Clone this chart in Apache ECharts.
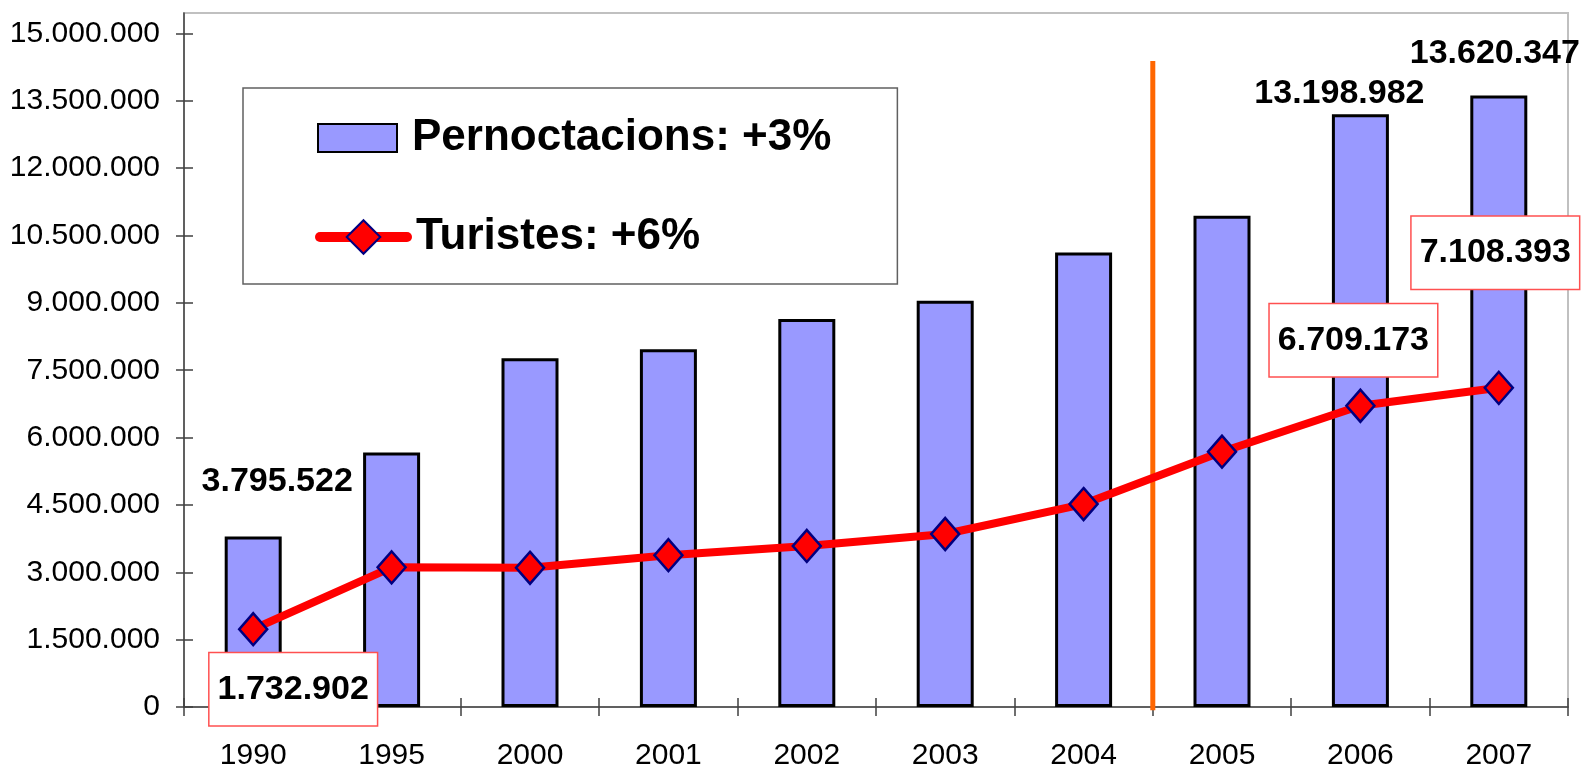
<!DOCTYPE html>
<html><head><meta charset="utf-8">
<script src="https://cdn.jsdelivr.net/npm/echarts@6/dist/echarts.min.js"></script>
<style>html,body{margin:0;padding:0;background:#fff}#c{width:1583px;height:767px}</style>
</head><body><div id="c"></div>
<script>
const years = ['1990','1995','2000','2001','2002','2003','2004','2005','2006','2007'];
const pernoctacions = [3795522, 5670000, 7766000, 7966000, 8640000, 9050000, 10120000, 10940000, 13198982, 13620347];
const turistes = [1732902, 3110000, 3100000, 3380000, 3586000, 3853000, 4520000, 5686000, 6709173, 7108393];
const yTicks = [0, 1500000, 3000000, 4500000, 6000000, 7500000, 9000000, 10500000, 12000000, 13500000, 15000000];
const separator = [[7, -70000], [7, 14387000]];
const legendNames = ['Pernoctacions: +3%', 'Turistes: +6%'];
const yMax = 15456000;

const barLabelOffsets = {0: [24, -38], 8: [-21, -4], 9: [-4, -25]};
const lineLabelOffsets = {0: [40, 60], 8: [-7, -65.5], 9: [-3.5, -135]};

const FONT = 'Liberation Sans, Arial, sans-serif';
function fmt(v){ return String(Math.round(v)).replace(/\B(?=(\d{3})+(?!\d))/g, '.'); }

const barData = pernoctacions.map((v, i) => {
  const o = {value: v};
  if (barLabelOffsets[i]) o.label = {show: true, offset: barLabelOffsets[i]};
  return o;
});
const lineData = turistes.map((v, i) => {
  const o = {value: v};
  if (lineLabelOffsets[i]) o.label = {show: true, offset: lineLabelOffsets[i]};
  return o;
});

const axisColor = '#404040';
const chart = echarts.init(document.getElementById('c'), null, {renderer: 'canvas'});
chart.setOption({
  animation: false,
  backgroundColor: '#fff',
  textStyle: {fontFamily: FONT},
  grid: {left: 184, right: 15, top: 13, bottom: 60, outerBoundsMode: 'none', containLabel: false,
         show: true, borderColor: '#C0C0C0', borderWidth: 2, backgroundColor: 'transparent'},
  legend: [
    {data: [{name: legendNames[0], icon: 'rect'}], left: 243, top: 88, orient: 'vertical', padding: [28, 66, 124, 74],
     borderColor: '#606060', borderWidth: 1.5, itemWidth: 79, itemHeight: 28, selectedMode: false,
     textStyle: {fontSize: 44, fontWeight: 'bold', color: '#000', fontFamily: FONT, padding: [0, 0, 0, 10]}},
    {data: [legendNames[1]], left: 315, top: 215, orient: 'vertical', padding: 0,
     itemWidth: 87, itemHeight: 42, selectedMode: false,
     lineStyle: {width: 10, cap: 'round'},
     textStyle: {fontSize: 44, fontWeight: 'bold', color: '#000', fontFamily: FONT, padding: [0, 0, 0, 4]}}
  ],
  xAxis: [
    {type: 'category', data: years, position: 'bottom', boundaryGap: true,
     axisLine: {show: true, lineStyle: {color: axisColor, width: 1.5}},
     axisTick: {show: true, length: 9, lineStyle: {color: axisColor, width: 1.5}},
     axisLabel: {fontSize: 30, color: '#000', margin: 34, fontFamily: FONT},
     splitLine: {show: false}},
    {type: 'category', data: years, position: 'bottom', boundaryGap: true,
     axisLine: {show: false},
     axisTick: {show: true, inside: true, length: 9, lineStyle: {color: axisColor, width: 1.5}},
     axisLabel: {show: false}, splitLine: {show: false}},
    {type: 'value', min: 0, max: 10, position: 'bottom', show: false}
  ],
  yAxis: [
    {type: 'value', min: 0, max: yMax, position: 'left',
     axisLine: {show: true, lineStyle: {color: axisColor, width: 1.5}},
     axisTick: {show: true, length: 8, customValues: yTicks, lineStyle: {color: axisColor, width: 1.5}},
     axisLabel: {customValues: yTicks, formatter: fmt, fontSize: 30, color: '#000', margin: 24, fontFamily: FONT},
     splitLine: {show: false}},
    {type: 'value', min: 0, max: yMax, position: 'left',
     axisLine: {show: false},
     axisTick: {show: true, inside: true, length: 9, customValues: yTicks, lineStyle: {color: axisColor, width: 1.5}},
     axisLabel: {show: false}, splitLine: {show: false}}
  ],
  series: [
    {name: 'sep', type: 'line', xAxisIndex: 2, yAxisIndex: 0, data: separator, symbol: 'none', clip: false,
     silent: true, z: 1, lineStyle: {color: '#FF6600', width: 5}},
    {name: legendNames[0], type: 'bar', xAxisIndex: 0, yAxisIndex: 0, data: barData, barWidth: 57, z: 2,
     itemStyle: {color: '#9999FF', borderColor: '#000', borderWidth: 3},
     label: {show: false, position: 'top', distance: 0, fontSize: 34, fontWeight: 'bold', color: '#000', fontFamily: FONT, formatter: p => fmt(p.value)}},
    {name: legendNames[1], type: 'line', xAxisIndex: 0, yAxisIndex: 0, data: lineData, z: 3,
     symbol: 'diamond', symbolSize: [28, 32],
     lineStyle: {color: '#FF0000', width: 8},
     itemStyle: {color: '#FF0000', borderColor: '#000080', borderWidth: 2.5},
     label: {show: false, position: 'inside', fontSize: 34, fontWeight: 'bold', color: '#000', fontFamily: FONT,
       backgroundColor: '#fff', borderColor: '#FF5050', borderWidth: 1.5, padding: [19, 8],
       formatter: p => fmt(p.value)}}
  ]
});
</script></body></html>
